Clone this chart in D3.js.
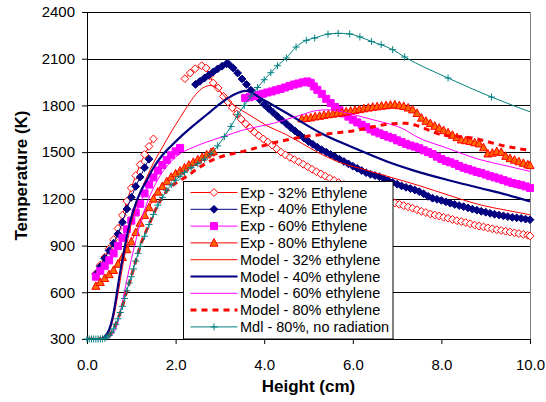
<!DOCTYPE html>
<html>
<head>
<meta charset="utf-8">
<script src="https://cdn.jsdelivr.net/npm/d3@7"></script>
<style>
  body { margin: 0; background: #fff; }
  svg { font-family: 'Liberation Sans', Arial, sans-serif; }
</style>
</head>
<body>
<div id="graph-container"></div>
<script>
// Height (cm), Temperature (K)
const exp32Rise = [[0.2,720],[0.3,775],[0.4,825],[0.5,880],[0.6,938],[0.7,1010],[0.8,1095],[0.9,1185],[1.0,1270],[1.1,1350],[1.2,1420],[1.3,1485],[1.4,1537],[1.5,1585]]
const exp32Fall = [[2.21,1972],[2.33,2008],[2.44,2036],[2.59,2055],[2.69,2040],[2.77,1990],[2.85,1944],[2.96,1912],[3.08,1858],[3.18,1822],[3.28,1785],[3.38,1745],[3.48,1712],[3.58,1682],[3.68,1655],[3.78,1628],[3.88,1605],[3.98,1585],[4.08,1565],[4.18,1545],[4.28,1522],[4.38,1500],[4.48,1482],[4.58,1466],[4.68,1452],[4.78,1438],[4.88,1422],[4.98,1406],[5.08,1390],[5.18,1374],[5.28,1360],[5.38,1346],[5.48,1332],[5.58,1318],[5.68,1305],[5.8,1292],[6.0,1270],[6.2,1250],[6.4,1230],[6.6,1208],[6.8,1188],[6.95,1173],[7.05,1165],[7.15,1156],[7.25,1148],[7.35,1140],[7.45,1130],[7.55,1120],[7.65,1112],[7.75,1103],[7.85,1096],[7.95,1090],[8.05,1082],[8.15,1076],[8.25,1068],[8.35,1060],[8.45,1054],[8.55,1048],[8.65,1040],[8.75,1032],[8.85,1025],[8.95,1020],[9.05,1014],[9.15,1008],[9.25,1002],[9.35,997],[9.45,992],[9.55,987],[9.65,982],[9.75,977],[9.85,972],[9.95,966],[10.0,962]]

const exp40Rise = [[0.2,715],[0.3,765],[0.4,818],[0.5,868],[0.6,915],[0.7,975],[0.8,1050],[0.9,1135],[1.0,1210],[1.1,1280],[1.2,1340],[1.3,1400],[1.4,1455]]
const exp40Fall = [[2.45,1935],[2.55,1955],[2.65,1975],[2.75,1995],[2.85,2015],[2.95,2035],[3.05,2052],[3.15,2068],[3.2,2065],[3.3,2040],[3.4,2008],[3.5,1970],[3.6,1935],[3.7,1898],[3.8,1866],[3.9,1837],[4.0,1806],[4.1,1780],[4.2,1755],[4.3,1730],[4.4,1705],[4.5,1682],[4.6,1658],[4.7,1635],[4.8,1612],[4.9,1590],[5.0,1568],[5.1,1550],[5.2,1532],[5.3,1515],[5.4,1500],[5.5,1485],[5.6,1470],[5.7,1455],[5.8,1440],[5.9,1425],[6.0,1410],[6.1,1396],[6.2,1382],[6.3,1368],[6.4,1358],[6.5,1350],[6.6,1342],[6.7,1330],[6.8,1318],[6.9,1306],[7.0,1294],[7.1,1283],[7.2,1274],[7.3,1266],[7.4,1257],[7.5,1246],[7.6,1232],[7.7,1216],[7.8,1204],[7.9,1197],[8.0,1190],[8.1,1181],[8.2,1172],[8.3,1164],[8.4,1157],[8.5,1150],[8.6,1142],[8.7,1134],[8.8,1127],[8.9,1120],[9.0,1114],[9.1,1107],[9.2,1101],[9.3,1096],[9.4,1091],[9.5,1086],[9.6,1081],[9.7,1078],[9.8,1075],[9.9,1070],[10.0,1066]]

const exp60Rise = [[0.2,700],[0.3,738],[0.4,770],[0.5,805],[0.6,850],[0.7,898],[0.8,950],[0.9,1005],[1.0,1060],[1.1,1112],[1.2,1168],[1.3,1235],[1.4,1292],[1.5,1338],[1.6,1382],[1.7,1418],[1.8,1450],[1.9,1480],[2.0,1505],[2.1,1527]]
const exp60Fall = [[3.57,1848],[3.67,1853],[3.77,1860],[3.87,1867],[3.97,1875],[4.07,1883],[4.17,1890],[4.27,1898],[4.37,1906],[4.47,1915],[4.57,1925],[4.67,1934],[4.77,1941],[4.87,1948],[4.97,1954],[5.05,1945],[5.12,1922],[5.2,1900],[5.3,1874],[5.4,1842],[5.5,1815],[5.6,1790],[5.7,1770],[5.8,1748],[5.9,1728],[6.0,1708],[6.1,1691],[6.2,1676],[6.3,1661],[6.4,1646],[6.5,1632],[6.6,1621],[6.7,1610],[6.8,1599],[6.9,1590],[7.0,1576],[7.1,1565],[7.2,1553],[7.3,1543],[7.4,1535],[7.5,1525],[7.6,1512],[7.7,1500],[7.8,1488],[7.9,1471],[8.0,1456],[8.1,1444],[8.2,1435],[8.3,1425],[8.4,1411],[8.5,1400],[8.6,1391],[8.7,1382],[8.8,1373],[8.9,1366],[9.0,1356],[9.1,1346],[9.2,1338],[9.3,1330],[9.4,1320],[9.5,1311],[9.6,1302],[9.7,1295],[9.8,1288],[9.9,1280],[10.0,1270]]

const exp80Rise = [[0.2,640],[0.3,665],[0.4,690],[0.5,715],[0.6,742],[0.7,782],[0.8,825],[0.9,875],[1.0,925],[1.1,985],[1.2,1045],[1.3,1095],[1.4,1145],[1.5,1200],[1.6,1245],[1.7,1280],[1.8,1312],[1.9,1340],[2.0,1362],[2.1,1380],[2.2,1400],[2.3,1418],[2.4,1436],[2.5,1452],[2.6,1468],[2.7,1484],[2.8,1498],[2.85,1505]]
const exp80Fall = [[4.85,1715],[4.95,1718],[5.05,1722],[5.15,1728],[5.25,1732],[5.35,1738],[5.45,1742],[5.55,1746],[5.65,1750],[5.75,1755],[5.85,1760],[5.95,1765],[6.05,1770],[6.15,1775],[6.25,1780],[6.35,1785],[6.45,1790],[6.55,1793],[6.65,1797],[6.75,1800],[6.85,1803],[6.95,1805],[7.05,1800],[7.15,1795],[7.25,1785],[7.35,1773],[7.45,1750],[7.55,1720],[7.65,1700],[7.75,1685],[7.85,1668],[7.95,1655],[8.05,1640],[8.15,1625],[8.25,1610],[8.35,1595],[8.45,1580],[8.55,1575],[8.65,1570],[8.75,1562],[8.85,1555],[8.95,1530],[9.05,1490],[9.15,1495],[9.25,1505],[9.35,1500],[9.45,1475],[9.55,1460],[9.65,1450],[9.75,1440],[9.85,1430],[9.95,1420],[10.0,1415]]

const model32 = [[0.0,300],[0.3,300],[0.4,310],[0.5,345],[0.6,440],[0.7,590],[0.8,760],[0.9,910],[1.0,1040],[1.1,1150],[1.2,1240],[1.35,1340],[1.5,1430],[1.7,1530],[1.9,1630],[2.1,1720],[2.3,1810],[2.5,1885],[2.65,1918],[2.8,1928],[2.95,1905],[3.2,1830],[3.4,1785],[3.6,1750],[3.8,1715],[4.06,1670],[4.5,1612],[4.8,1565],[5.2,1500],[5.7,1435],[6.3,1385],[6.9,1335],[7.5,1285],[8.2,1220],[8.9,1160],[9.5,1125],[10.0,1098]]
const model40 = [[0.0,300],[0.3,300],[0.4,315],[0.5,360],[0.58,440],[0.65,550],[0.72,680],[0.8,810],[0.9,960],[1.0,1080],[1.1,1170],[1.2,1240],[1.35,1320],[1.5,1400],[1.7,1480],[1.9,1540],[2.1,1595],[2.4,1670],[2.7,1740],[3.0,1810],[3.2,1850],[3.4,1880],[3.57,1893],[3.7,1885],[3.9,1850],[4.13,1812],[4.6,1735],[5.26,1625],[6.0,1530],[6.77,1440],[7.4,1380],[8.12,1323],[8.87,1270],[9.5,1225],[10.0,1184]]
const model60 = [[0.0,300],[0.4,300],[0.5,310],[0.6,340],[0.7,410],[0.8,540],[0.9,680],[1.0,810],[1.1,930],[1.2,1040],[1.35,1170],[1.5,1270],[1.7,1370],[1.9,1440],[2.1,1490],[2.35,1525],[2.7,1565],[3.08,1600],[3.5,1640],[4.2,1685],[4.85,1740],[5.2,1768],[5.45,1772],[5.71,1762],[6.1,1735],[6.46,1708],[7.2,1640],[7.4,1605],[8.12,1527],[8.87,1452],[9.5,1410],[10.0,1376]]
const model80 = [[0.0,300],[0.35,302],[0.5,322],[0.6,365],[0.7,430],[0.8,510],[0.9,610],[1.0,700],[1.1,800],[1.2,895],[1.4,1035],[1.6,1160],[1.8,1250],[2.0,1300],[2.25,1344],[2.5,1395],[2.85,1452],[3.2,1485],[3.53,1505],[4.2,1559],[4.95,1601],[5.5,1620],[6.08,1640],[6.5,1665],[6.9,1683],[7.2,1685],[7.43,1672],[7.96,1615],[8.71,1590],[9.46,1537],[10.0,1511]]
const modelNoRad = [[0.0,300],[0.05,300],[0.1,300],[0.15,300],[0.2,300],[0.25,300],[0.3,300],[0.35,302],[0.4,305],[0.45,312],[0.5,322],[0.55,340],[0.6,365],[0.65,395],[0.7,430],[0.75,470],[0.8,510],[0.85,560],[0.9,610],[0.95,660],[1.0,700],[1.05,750],[1.1,800],[1.15,850],[1.2,895],[1.3,960],[1.4,1035],[1.5,1100],[1.6,1160],[1.7,1210],[1.8,1255],[1.9,1290],[2.0,1320],[2.1,1345],[2.2,1370],[2.35,1400],[2.5,1425],[2.65,1455],[2.8,1490],[2.95,1540],[3.1,1600],[3.25,1665],[3.4,1740],[3.55,1800],[3.7,1860],[3.85,1915],[4.0,1965],[4.15,2010],[4.3,2055],[4.5,2105],[4.72,2175],[4.95,2218],[5.14,2233],[5.44,2258],[5.67,2263],[5.93,2259],[6.16,2240],[6.42,2211],[6.64,2190],[6.9,2158],[7.17,2111],[8.15,1976],[9.13,1854],[10.2,1738]]

const xTicks = [0, 2, 4, 6, 8, 10]
const yTicks = [300, 600, 900, 1200, 1500, 1800, 2100, 2400]

const rootWidth = 546
const rootHeight = 402
const marginTop = 12
const marginLeft = 87
const graphWidth = 443
const graphHeight = 327

const series = [
  { label: 'Exp - 32% Ethylene', segments: [exp32Rise, exp32Fall], stroke: '#ff0000', width: 1, marker: 'diamond', markerFill: '#ffffff', markerStroke: '#ff0000' },
  { label: 'Exp - 40% Ethylene', segments: [exp40Rise, exp40Fall], stroke: '#000080', width: 1, marker: 'diamond', markerFill: '#000080', markerStroke: '#000080' },
  { label: 'Exp - 60% Ethylene', segments: [exp60Rise, exp60Fall], stroke: '#ff00ff', width: 1, marker: 'square', markerFill: '#ff00ff', markerStroke: '#ff00ff' },
  { label: 'Exp - 80% Ethylene', segments: [exp80Rise, exp80Fall], stroke: '#ff0000', width: 1, marker: 'triangle', markerFill: '#ff6600', markerStroke: '#ff0000' },
  { label: 'Model - 32% ethylene', segments: [model32], stroke: '#ff0000', width: 1, smooth: true },
  { label: 'Model - 40% ethylene', segments: [model40], stroke: '#000080', width: 2.2, smooth: true },
  { label: 'Model - 60% ethylene', segments: [model60], stroke: '#ff00ff', width: 1, smooth: true },
  { label: 'Model - 80% ethylene', segments: [model80], stroke: '#ff0000', width: 3, dash: '6,5', smooth: true },
  { label: 'Mdl - 80%, no radiation', segments: [modelNoRad], stroke: '#008080', width: 1, marker: 'plus', markerFill: 'none', markerStroke: '#008080', smooth: true },
]

function markerPath(type) {
  if (type === 'diamond') return 'M0,-3.9L3.9,0L0,3.9L-3.9,0Z'
  if (type === 'square') return 'M-3.5,-3.5H3.5V3.5H-3.5Z'
  if (type === 'triangle') return 'M0,-4.3L4,3.3H-4Z'
  if (type === 'plus') return 'M-3.5,0H3.5M0,-3.5V3.5'
  return ''
}

const xAxis = d3.scaleLinear().domain([0, 10]).range([0, graphWidth])
const yAxis = d3.scaleLinear().domain([300, 2400]).range([graphHeight, 0])

const root = d3
  .select('#graph-container')
  .append('svg')
  .attr('width', rootWidth)
  .attr('height', rootHeight)

const defs = root.append('defs')
defs.append('clipPath').attr('id', 'clip')
  .append('rect').attr('width', graphWidth).attr('height', graphHeight)
defs.append('clipPath').attr('id', 'clip-markers')
  .append('rect').attr('x', -5).attr('y', -5).attr('width', graphWidth + 10).attr('height', graphHeight + 10)

const graphArea = root
  .append('g')
  .attr('transform', `translate(${marginLeft},${marginTop})`)

// horizontal grid lines
graphArea
  .append('g')
  .selectAll('line')
  .data(yTicks.slice(1))
  .enter()
  .append('line')
  .attr('x1', 0)
  .attr('x2', graphWidth)
  .attr('y1', (d) => Math.round(yAxis(d)) + 0.5)
  .attr('y2', (d) => Math.round(yAxis(d)) + 0.5)
  .attr('stroke', '#000')

// right border of the plot area
graphArea
  .append('line')
  .attr('x1', graphWidth + 0.5)
  .attr('x2', graphWidth + 0.5)
  .attr('y1', 0)
  .attr('y2', graphHeight)
  .attr('stroke', '#808080')

// axes
const bottomAxis = graphArea
  .append('g')
  .attr('transform', `translate(0,${graphHeight})`)
  .call(d3.axisBottom(xAxis).tickValues(xTicks).tickFormat(d3.format('.1f')).tickSize(5).tickSizeOuter(0).tickPadding(15))
const leftAxis = graphArea
  .append('g')
  .call(d3.axisLeft(yAxis).tickValues(yTicks).tickFormat(d3.format('d')).tickSize(5).tickSizeOuter(0).tickPadding(7))

;[bottomAxis, leftAxis].forEach((ax) => {
  ax.selectAll('text').attr('font-size', 15).attr('fill', '#000').style('font-family', "'Liberation Sans', Arial, sans-serif")
  ax.selectAll('line, path').attr('stroke', '#000')
})

// series in legend order, each one's line and markers together so later series sit on top
series.forEach((s) => {
  const layer = graphArea.append('g')
  const lineLayer = layer.append('g').attr('clip-path', 'url(#clip)')
  const markerLayer = layer.append('g').attr('clip-path', 'url(#clip-markers)')

  const line = d3
    .line()
    .x((d) => xAxis(d[0]))
    .y((d) => yAxis(d[1]))
    .curve(s.smooth ? d3.curveMonotoneX : d3.curveLinear)

  s.segments.forEach((seg) => {
    lineLayer
      .append('path')
      .attr('d', line(seg))
      .attr('fill', 'none')
      .attr('stroke', s.stroke)
      .attr('stroke-width', s.width)
      .attr('stroke-dasharray', s.dash || null)
      .attr('stroke-linejoin', 'round')

    if (!s.marker) return
    markerLayer
      .append('g')
      .selectAll('path')
      .data(seg)
      .enter()
      .append('path')
      .attr('transform', (d) => `translate(${xAxis(d[0])},${yAxis(d[1])})`)
      .attr('d', markerPath(s.marker))
      .attr('fill', s.markerFill)
      .attr('stroke', s.markerStroke)
      .attr('stroke-width', 1)
  })
})

// legend
const legend = root.append('g').attr('transform', 'translate(183.5,181.5)')
legend
  .append('rect')
  .attr('width', 209.5)
  .attr('height', graphHeight + marginTop - 181.5)
  .attr('fill', '#fff')
  .attr('stroke', '#000')

const legendRows = legend
  .selectAll('g')
  .data(series)
  .enter()
  .append('g')
  .attr('transform', (d, i) => `translate(0,${11 + i * 16.8})`)

legendRows
  .append('line')
  .attr('x1', 7)
  .attr('x2', 54)
  .attr('stroke', (d) => d.stroke)
  .attr('stroke-width', (d) => d.width)
  .attr('stroke-dasharray', (d) => (d.dash ? '6,5' : null))

legendRows
  .filter((d) => d.marker)
  .append('path')
  .attr('transform', 'translate(30.5,0)')
  .attr('d', (d) => markerPath(d.marker))
  .attr('fill', (d) => d.markerFill)
  .attr('stroke', (d) => d.markerStroke)

legendRows
  .append('text')
  .attr('x', 56.5)
  .attr('dy', '0.35em')
  .attr('font-size', 14.5)
  .text((d) => d.label)

// axis titles
root
  .append('text')
  .attr('x', marginLeft + graphWidth / 2)
  .attr('y', 392)
  .attr('text-anchor', 'middle')
  .attr('font-size', 17)
  .attr('font-weight', 'bold')
  .text('Height (cm)')

root
  .append('text')
  .attr('transform', `translate(27,${marginTop + graphHeight / 2}) rotate(-90)`)
  .attr('text-anchor', 'middle')
  .attr('font-size', 17)
  .attr('font-weight', 'bold')
  .text('Temperature (K)')
</script>
</body>
</html>
